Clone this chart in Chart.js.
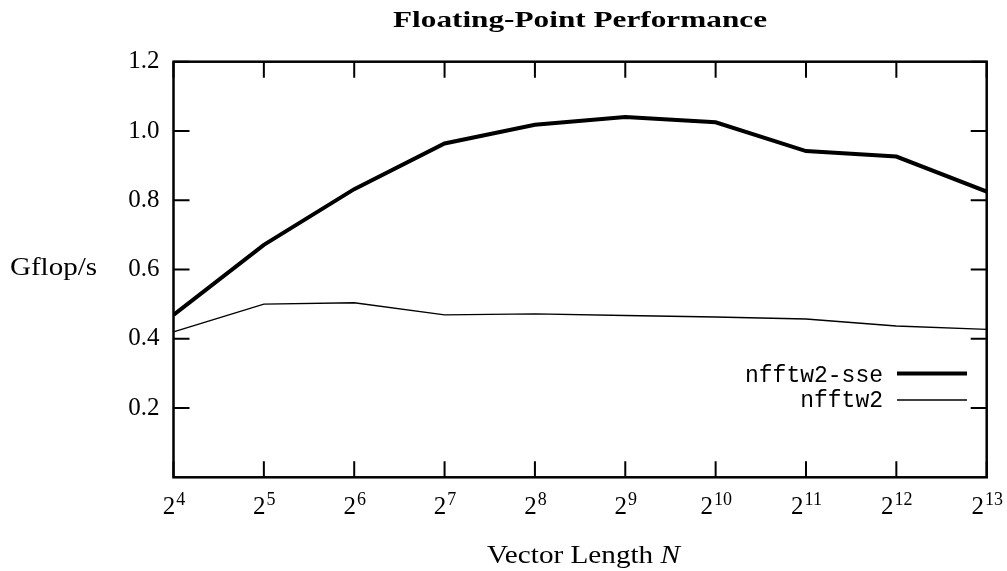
<!DOCTYPE html>
<html>
<head>
<meta charset="utf-8">
<script src="https://cdn.jsdelivr.net/npm/chart.js@4.4.1/dist/chart.umd.min.js"></script>
<style>
  html, body { margin: 0; padding: 0; background: #fff; }
  #wrap { width: 1007px; height: 571px; position: relative; }
</style>
</head>
<body>
<div id="wrap"><canvas id="c" width="1007" height="571"></canvas></div>
<script>
// ---- data ----
const exponents = [4, 5, 6, 7, 8, 9, 10, 11, 12, 13];
const sseValues = [0.469, 0.671, 0.832, 0.964, 1.018, 1.040, 1.025, 0.942, 0.926, 0.825];
const plainValues = [0.420, 0.500, 0.504, 0.469, 0.472, 0.467, 0.463, 0.457, 0.437, 0.427];
const seriesNames = ['nfftw2-sse', 'nfftw2'];
const yTickValues = [0.2, 0.4, 0.6, 0.8, 1.0, 1.2];
const titleText = 'Floating-Point Performance';
const yTitleText = 'Gflop/s';
const xTitleText = 'Vector Length ';
const xTitleVar = 'N';
const xBase = '2';

const SERIF = '"Liberation Serif", "DejaVu Serif", serif';
const MONO = '"Liberation Mono", "DejaVu Sans Mono", monospace';

// draw text stretched horizontally (Computer-Modern-like width)
function stretchText(ctx, text, x, y, sx) {
  ctx.save();
  ctx.translate(x, y);
  ctx.scale(sx, 1);
  ctx.textAlign = 'left';
  ctx.fillText(text, 0, 0);
  ctx.restore();
}

const decor = {
  id: 'decor',
  afterDraw(chart) {
    const ctx = chart.ctx;
    const a = chart.chartArea;
    const xs = chart.scales.x, ys = chart.scales.y;
    ctx.save();
    ctx.strokeStyle = '#000';
    ctx.fillStyle = '#000';
    // frame
    ctx.lineWidth = 2.5;
    ctx.strokeRect(a.left, a.top, a.right - a.left, a.bottom - a.top);
    // ticks (inward, mirrored)
    ctx.lineWidth = 2;
    const TL = 16;
    ctx.beginPath();
    yTickValues.forEach(v => {
      const y = ys.getPixelForValue(v);
      ctx.moveTo(a.left, y); ctx.lineTo(a.left + TL, y);
      ctx.moveTo(a.right, y); ctx.lineTo(a.right - TL, y);
    });
    exponents.forEach(e => {
      const x = xs.getPixelForValue(e);
      ctx.moveTo(x, a.bottom); ctx.lineTo(x, a.bottom - TL);
      ctx.moveTo(x, a.top); ctx.lineTo(x, a.top + TL);
    });
    ctx.stroke();
    // x tick labels 2^e
    ctx.textBaseline = 'alphabetic';
    ctx.textAlign = 'left';
    exponents.forEach(e => {
      const x = xs.getPixelForValue(e);
      ctx.font = '25px ' + SERIF;
      const wb = ctx.measureText(xBase).width;
      ctx.font = '18px ' + SERIF;
      const ws = ctx.measureText(String(e)).width;
      const x0 = x - (wb + ws) / 2;
      ctx.font = '25px ' + SERIF;
      ctx.fillText(xBase, x0, 514);
      ctx.font = '18px ' + SERIF;
      ctx.fillText(String(e), x0 + wb + 1, 505);
    });
    // title
    ctx.font = 'bold 23px ' + SERIF;
    const tw = ctx.measureText(titleText).width;
    const tTarget = 374;
    stretchText(ctx, titleText, 580 - tTarget / 2, 27, tTarget / tw);
    // y title
    ctx.font = '25px ' + SERIF;
    const yw = ctx.measureText(yTitleText).width;
    stretchText(ctx, yTitleText, 10, 275, 87 / yw);
    // x title
    ctx.font = '26px ' + SERIF;
    const w1 = ctx.measureText(xTitleText).width;
    ctx.font = 'italic 26px ' + SERIF;
    const w2 = ctx.measureText(xTitleVar).width;
    const xTarget = 193;
    const k = xTarget / (w1 + w2);
    const sx = 583.5 - xTarget / 2;
    ctx.font = '26px ' + SERIF;
    stretchText(ctx, xTitleText, sx, 563, k);
    ctx.font = 'italic 26px ' + SERIF;
    stretchText(ctx, xTitleVar, sx + w1 * k, 563, k);
    // legend
    ctx.font = '23px ' + MONO;
    ctx.textAlign = 'right';
    const rows = [{y: 382, ly: 373.5}, {y: 407, ly: 400}];
    chart.data.datasets.forEach((ds, i) => {
      ctx.fillText(ds.label, 883, rows[i].y);
      ctx.lineWidth = ds.borderWidth;
      ctx.beginPath();
      ctx.moveTo(897, rows[i].ly);
      ctx.lineTo(967, rows[i].ly);
      ctx.stroke();
    });
    ctx.restore();
  }
};

new Chart(document.getElementById('c'), {
  type: 'line',
  data: {
    datasets: [
      {
        label: seriesNames[0],
        data: exponents.map((e, i) => ({x: e, y: sseValues[i]})),
        borderColor: '#000',
        borderWidth: 4,
        pointRadius: 0,
        tension: 0,
        fill: false
      },
      {
        label: seriesNames[1],
        data: exponents.map((e, i) => ({x: e, y: plainValues[i]})),
        borderColor: '#000',
        borderWidth: 1.4,
        pointRadius: 0,
        tension: 0,
        fill: false
      }
    ]
  },
  options: {
    responsive: false,
    animation: false,
    devicePixelRatio: 1,
    layout: { padding: { left: 0, right: 20.3, top: 61.7, bottom: 0 } },
    plugins: {
      legend: { display: false },
      title: { display: false },
      tooltip: { enabled: false }
    },
    scales: {
      x: {
        type: 'linear',
        min: 4, max: 13,
        grid: { display: false, drawTicks: false },
        border: { display: false },
        ticks: { display: false, stepSize: 1 },
        afterFit(s) { s.height = 93.7; }
      },
      y: {
        type: 'linear',
        min: 0, max: 1.2,
        grid: { display: false, drawTicks: false },
        border: { display: false },
        ticks: {
          stepSize: 0.2,
          padding: 14,
          color: '#000',
          font: { family: SERIF, size: 25 },
          callback: (v) => {
            const t = yTickValues.find(tv => Math.abs(tv - v) < 1e-6);
            return t === undefined ? '' : t.toFixed(1);
          }
        },
        afterFit(s) { s.width = 173.5; }
      }
    }
  },
  plugins: [decor]
});
</script>
</body>
</html>
